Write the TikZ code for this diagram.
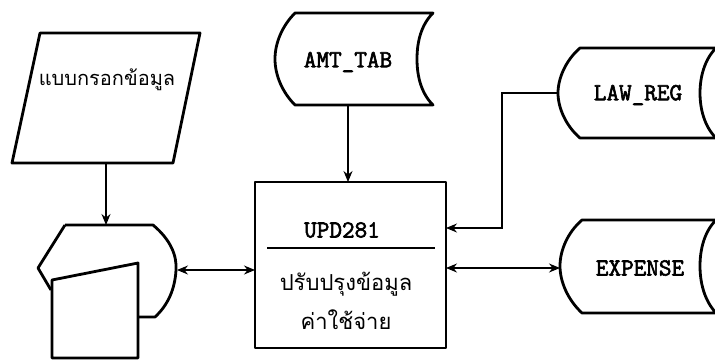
\documentclass[tikz,border=0pt]{standalone}
\usepackage{fontspec}
\newfontfamily\thaifont[Script=Thai]{Loma}
\newfontfamily\enfont[FakeBold=2.5]{Latin Modern Mono}
\usetikzlibrary{arrows.meta}
\tikzset{
  shapeline/.style={line width=2.8pt, line join=round},
  conn/.style={line width=1.1pt},
  tip/.style={-{Stealth[length=11pt,width=9pt]}},
  dtip/.style={{Stealth[length=11pt,width=9pt]}-{Stealth[length=11pt,width=9pt]}},
  entxt/.style={font=\enfont\fontsize{24.5}{28}\selectfont, inner sep=0pt},
  thtxt/.style={font=\thaifont\fontsize{22}{26}\selectfont, inner sep=0pt},
  thsmall/.style={font=\thaifont\fontsize{20}{24}\selectfont, inner sep=0pt},
}
\begin{document}
\begin{tikzpicture}[x=1pt,y=-1pt]
\useasboundingbox (0,0) rectangle (715,360);
\begin{scope}
\clip (0,0) rectangle (715,360);
% parallelogram (input form)
\draw[shapeline] (40,33) -- (200,33) -- (173,163) -- (12,163) -- cycle;
\node[thsmall] (form) at (107,80) {แบบกรอกข้อมูล};
\coordinate (formb) at (106,163);
% display + manual input
\draw[shapeline] (65,225) -- (153,225) .. controls (171,240) and (177,256) .. (176,270)
   .. controls (175,289) and (168,305) .. (155,317) -- (138,317);
\draw[shapeline] (65,225) -- (38,268) -- (51,290);
\draw[shapeline] (52,280) -- (138,263) -- (138,358) -- (52,358) -- cycle;
\coordinate (disptop) at (106,225);
\coordinate (dispr) at (177,270);
% AMT_TAB storage
\draw[shapeline] (295,13) -- (433,13) .. controls (421,25) and (417,42) .. (417,59)
   .. controls (417,76) and (421,93) .. (433,105) -- (295,105)
   .. controls (283,93) and (275,76) .. (275,59) .. controls (275,42) and (283,25) .. (295,13) -- cycle;
\node[entxt] (amt) at (348,62) {AMT\_TAB};
\coordinate (amtb) at (348,105);
% LAW_REG storage
\draw[shapeline] (580,48) -- (716,48) .. controls (704,60) and (700,78) .. (700,93)
   .. controls (700,108) and (704,126) .. (716,138) -- (580,138)
   .. controls (566,126) and (558,108) .. (558,93) .. controls (558,78) and (566,60) .. (580,48) -- cycle;
\node[entxt] (law) at (638,95) {LAW\_REG};
\coordinate (lawl) at (558,93);
% EXPENSE storage
\draw[shapeline] (582,220) -- (716,220) .. controls (704,232) and (700,250) .. (700,266)
   .. controls (700,282) and (704,300) .. (716,313) -- (582,313)
   .. controls (568,300) and (560,282) .. (560,266) .. controls (560,250) and (568,232) .. (582,220) -- cycle;
\node[entxt] (exp) at (640,268) {EXPENSE};
\coordinate (expl) at (560,268);
% process box
\node[draw, shapeline, minimum width=191pt, minimum height=166pt, inner sep=0pt] (proc) at (350.5,265) {};
\coordinate (procsep) at (267,248);
\draw[line width=1.4pt] (procsep) -- (435,248);
\node[entxt] (upd) at (342,230) {UPD281};
\node[thtxt] (th1) at (346,284) {ปรับปรุงข้อมูล};
\node[thtxt] (th2) at (346,320) {ค่าใช้จ่าย};
\coordinate (proctop) at (348,182);
\coordinate (procl) at (255,270);
\coordinate (procr1) at (446,228);
\coordinate (procr2) at (446,268);
\end{scope}
% connectors
\draw[conn,tip] (formb) -- (disptop);
\draw[conn,dtip] (dispr) -- (procl);
\draw[conn,tip] (amtb) -- (proctop);
\draw[conn,tip] (lawl) -- (502,93) -- (502,228) -- (procr1);
\draw[conn,dtip] (procr2) -- (expl);
\end{tikzpicture}
\end{document}
